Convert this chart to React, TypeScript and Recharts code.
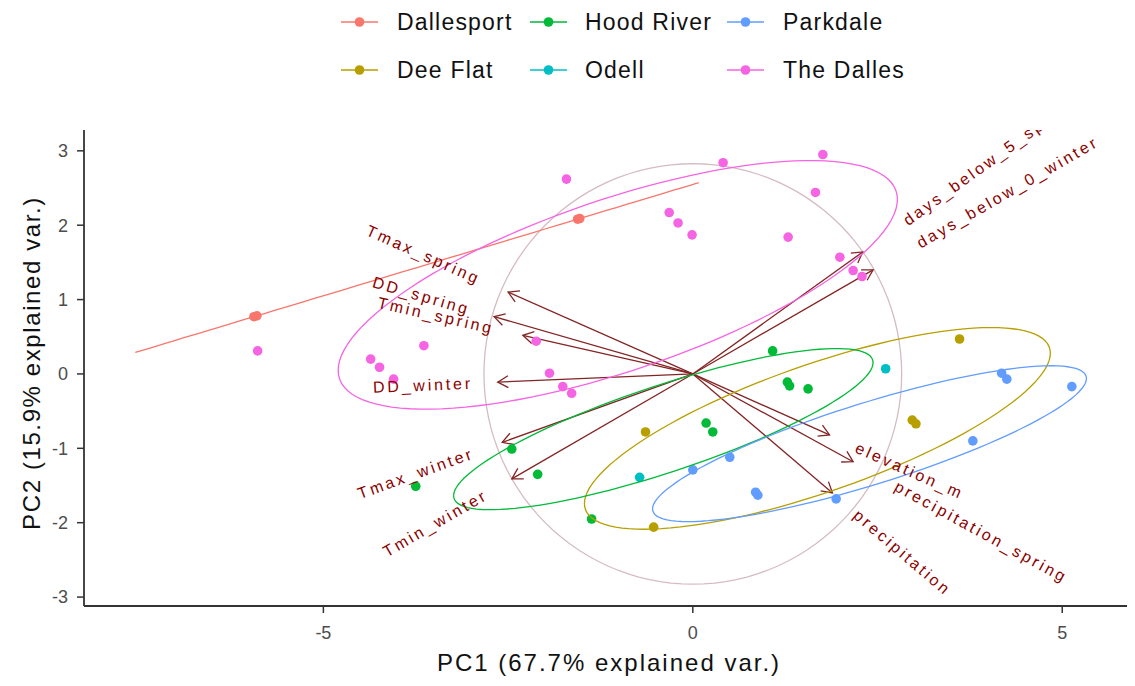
import { ScatterChart, Scatter, XAxis, YAxis } from "recharts";

const W = 1135;
const H = 686;
const PLOT = { left: 84, right: 1128, top: 130, bottom: 606 };
const X_DOMAIN: [number, number] = [-8.24, 5.89];
const Y_DOMAIN: [number, number] = [-3.12, 3.28];
const X_TICKS = [-5, 0, 5];
const Y_TICKS = [-3, -2, -1, 0, 1, 2, 3];

const FONT = '"Liberation Sans", Arial, Helvetica, sans-serif';
const ARROW_COLOR = "#832424";
const LABEL_COLOR = "#8B0000";
const CIRCLE_COLOR = "#d6bcc1";
const LABEL_SIZE = 16;
const LABEL_SPACING = 2.8;

const GROUPS = ["Dallesport", "Dee Flat", "Hood River", "Odell", "Parkdale", "The Dalles"];
const COLORS = ["#F8766D", "#B79F00", "#00BA38", "#00BFC4", "#619CFF", "#F564E3"];

// scores (PC1 / PC2) per site
const DALLESPORT_PC1 = [-5.94, -5.9, -1.53, -1.56];
const DALLESPORT_PC2 = [0.77, 0.782, 2.09, 2.081];
const DEE_FLAT_PC1 = [3.61, 2.97, 3.02, -0.64, -0.53];
const DEE_FLAT_PC2 = [0.47, -0.62, -0.67, -0.78, -2.06];
const HOOD_RIVER_PC1 = [1.08, 1.28, 1.31, 1.56, 0.18, 0.27, -2.45, -2.1, -1.37, -3.75];
const HOOD_RIVER_PC2 = [0.31, -0.11, -0.16, -0.2, -0.66, -0.78, -1.01, -1.35, -1.95, -1.51];
const ODELL_PC1 = [2.61, -0.72];
const ODELL_PC2 = [0.07, -1.39];
const PARKDALE_PC1 = [4.18, 4.25, 5.13, 3.79, 1.94, 0.85, 0.88, 0.5, 0.0];
const PARKDALE_PC2 = [0.01, -0.07, -0.17, -0.9, -1.68, -1.59, -1.63, -1.12, -1.29];
const THE_DALLES_PC1 = [
  -1.71, 0.41, 1.76, -0.32, -0.2, -0.01, 1.66, 1.29, 1.99, 2.17, 2.29, -2.12, -1.94, -1.76, -1.64,
  -3.64, -4.36, -4.24, -4.05, -5.89,
];
const THE_DALLES_PC2 = [
  2.62, 2.84, 2.95, 2.17, 2.03, 1.87, 2.44, 1.84, 1.57, 1.39, 1.31, 0.44, 0.01, -0.17, -0.26, 0.38,
  0.2, 0.09, -0.07, 0.31,
];

// variable loadings (arrow tips)
const VAR_NAMES = [
  "Tmax_spring",
  "DD_spring",
  "Tmin_spring",
  "DD_winter",
  "Tmax_winter",
  "Tmin_winter",
  "days_below_5_spring",
  "days_below_0_winter",
  "elevation_m",
  "precipitation_spring",
  "precipitation",
];
const LOAD_PC1 = [-2.5, -2.69, -2.3, -2.64, -2.58, -2.45, 2.3, 2.44, 1.85, 2.17, 1.89];
const LOAD_PC2 = [1.1, 0.77, 0.52, -0.11, -0.92, -1.41, 1.64, 1.4, -0.82, -1.18, -1.6];

const GROUP_PC1 = [DALLESPORT_PC1, DEE_FLAT_PC1, HOOD_RIVER_PC1, ODELL_PC1, PARKDALE_PC1, THE_DALLES_PC1];
const GROUP_PC2 = [DALLESPORT_PC2, DEE_FLAT_PC2, HOOD_RIVER_PC2, ODELL_PC2, PARKDALE_PC2, THE_DALLES_PC2];

const sx = (PLOT.right - PLOT.left) / (X_DOMAIN[1] - X_DOMAIN[0]);
const sy = (PLOT.bottom - PLOT.top) / (Y_DOMAIN[1] - Y_DOMAIN[0]);

type Pt = { x: number; y: number };

const groupPoints: Pt[][] = GROUPS.map((_, i) =>
  GROUP_PC1[i].map((x, j) => ({ x, y: GROUP_PC2[i][j] }))
);

// normal data ellipse, 68% like ggbiplot
function dataEllipse(pts: Pt[]): Pt[] | null {
  const n = pts.length;
  if (n <= 2) return null;
  const mx = pts.reduce((s, p) => s + p.x, 0) / n;
  const my = pts.reduce((s, p) => s + p.y, 0) / n;
  let sxx = 0, syy = 0, sxy = 0;
  pts.forEach((p) => {
    sxx += (p.x - mx) ** 2;
    syy += (p.y - my) ** 2;
    sxy += (p.x - mx) * (p.y - my);
  });
  sxx /= n - 1;
  syy /= n - 1;
  sxy /= n - 1;
  const ed = Math.sqrt(-2 * Math.log(1 - 0.68));
  const r11 = Math.sqrt(sxx);
  const r12 = sxy / r11;
  const r22 = Math.sqrt(Math.max(0, syy - r12 * r12));
  const out: Pt[] = [];
  for (let k = 0; k <= 120; k++) {
    const t = -Math.PI + (2 * Math.PI * k) / 120;
    const c = Math.cos(t);
    const s = Math.sin(t);
    out.push({ x: mx + ed * c * r11, y: my + ed * (c * r12 + s * r22) });
  }
  return out;
}

const ellipses = groupPoints.map(dataEllipse);

const loadings = VAR_NAMES.map((name, i) => ({ name, x: LOAD_PC1[i], y: LOAD_PC2[i] }));
const circleRadius = Math.max(...loadings.map((l) => Math.hypot(l.x, l.y)));
const circlePts: Pt[] = [];
for (let k = 0; k <= 120; k++) {
  const t = (2 * Math.PI * k) / 120;
  circlePts.push({ x: circleRadius * Math.cos(t), y: circleRadius * Math.sin(t) });
}

let measureCtx: CanvasRenderingContext2D | null = null;
function labelWidth(s: string) {
  if (!measureCtx) measureCtx = document.createElement("canvas").getContext("2d");
  if (!measureCtx) return s.length * LABEL_SIZE * 0.5;
  measureCtx.font = `${LABEL_SIZE}px ${FONT}`;
  return measureCtx.measureText(s).width + LABEL_SPACING * s.length;
}

const NoShape = () => <g />;

const makeDot = (color: string) => (p: any) => <circle cx={p.cx} cy={p.cy} r={4.8} fill={color} />;

function ArrowHead(p: any) {
  if (!p.payload || !p.payload.tip) return <g />;
  const a = Math.atan2(-p.payload.y * sy, p.payload.x * sx);
  const L = 12;
  const h = Math.PI / 6;
  const x1 = p.cx - L * Math.cos(a - h);
  const y1 = p.cy - L * Math.sin(a - h);
  const x2 = p.cx - L * Math.cos(a + h);
  const y2 = p.cy - L * Math.sin(a + h);
  return (
    <path
      d={`M${x1},${y1}L${p.cx},${p.cy}L${x2},${y2}`}
      fill="none"
      stroke={ARROW_COLOR}
      strokeWidth={1.3}
    />
  );
}

function VarLabel(p: any) {
  const { x, y, name } = p.payload;
  const deg = (Math.atan((y * sy) / (x * sx)) * 180) / Math.PI;
  const w = labelWidth(name);
  const pos = x > 0;
  const id = `clip-${name}`;
  return (
    <g>
      <defs>
        <clipPath id={id}>
          <rect x={PLOT.left} y={PLOT.top} width={PLOT.right - PLOT.left} height={PLOT.bottom - PLOT.top} />
        </clipPath>
      </defs>
      <g clipPath={`url(#${id})`}>
        <text
          transform={`translate(${p.cx},${p.cy}) rotate(${-deg})`}
          x={pos ? 0.25 * w : -0.25 * w}
          y={0}
          textAnchor={pos ? "start" : "end"}
          dominantBaseline="central"
          fontFamily={FONT}
          fontSize={LABEL_SIZE}
          letterSpacing={LABEL_SPACING}
          fill={LABEL_COLOR}
        >
          {name}
        </text>
      </g>
    </g>
  );
}

const LEGEND_KEY_X = [341, 530, 727];
const LEGEND_TEXT_X = [397, 585, 783];
const LEGEND_ROW_Y = [22, 70];

function TopLegend() {
  return (
    <div style={{ position: "absolute", left: 0, top: 0, width: W, height: 100 }}>
      {GROUPS.map((g, i) => {
        const col = Math.floor(i / 2);
        const row = i % 2;
        const cy = LEGEND_ROW_Y[row];
        return (
          <div key={g}>
            <svg
              style={{ position: "absolute", left: LEGEND_KEY_X[col], top: cy - 6 }}
              width={37}
              height={12}
            >
              <line x1={0} y1={6} x2={37} y2={6} stroke={COLORS[i]} strokeWidth={1.6} />
              <circle cx={18.5} cy={6} r={4.8} fill={COLORS[i]} />
            </svg>
            <span
              style={{
                position: "absolute",
                left: LEGEND_TEXT_X[col],
                top: cy - 14,
                lineHeight: "28px",
                fontSize: 23,
                letterSpacing: 1.2,
                fontFamily: FONT,
                color: "#111",
                whiteSpace: "nowrap",
              }}
            >
              {g}
            </span>
          </div>
        );
      })}
    </div>
  );
}

export default function App() {
  return (
    <div style={{ position: "relative", width: W, height: H, margin: -8, background: "#fff" }}>
      <ScatterChart
        width={W}
        height={H}
        margin={{ top: PLOT.top, right: W - PLOT.right, bottom: 0, left: 0 }}
      >
        <XAxis
          type="number"
          dataKey="x"
          domain={X_DOMAIN}
          ticks={X_TICKS}
          allowDataOverflow
          height={H - PLOT.bottom}
          tickSize={7}
          tickMargin={13}
          tick={{ fill: "#4d4d4d", fontSize: 18, fontFamily: FONT }}
          tickLine={{ stroke: "#333", strokeWidth: 1.5 }}
          axisLine={{ stroke: "#333", strokeWidth: 1.8 }}
          label={() => (
            <text
              x={(PLOT.left + PLOT.right) / 2 + 3}
              y={662}
              textAnchor="middle"
              dominantBaseline="central"
              fontFamily={FONT}
              fontSize={24}
              letterSpacing={2}
              fill="#111"
            >
              PC1 (67.7% explained var.)
            </text>
          )}
        />
        <YAxis
          type="number"
          dataKey="y"
          domain={Y_DOMAIN}
          ticks={Y_TICKS}
          allowDataOverflow
          width={PLOT.left}
          tickSize={7}
          tickMargin={9}
          tick={{ fill: "#4d4d4d", fontSize: 18, fontFamily: FONT }}
          tickLine={{ stroke: "#333", strokeWidth: 1.5 }}
          axisLine={{ stroke: "#333", strokeWidth: 1.8 }}
          label={() => (
            <text
              transform={`translate(31,${(PLOT.top + PLOT.bottom) / 2 - 5}) rotate(-90)`}
              textAnchor="middle"
              dominantBaseline="central"
              fontFamily={FONT}
              fontSize={24}
              letterSpacing={1.6}
              fill="#111"
            >
              PC2 (15.9% explained var.)
            </text>
          )}
        />
        <Scatter
          name="circle"
          data={circlePts}
          line={{ stroke: CIRCLE_COLOR, strokeWidth: 1.3 }}
          shape={NoShape}
          isAnimationActive={false}
        />
        {loadings.map((l) => (
          <Scatter
            key={`arrow-${l.name}`}
            name={`arrow-${l.name}`}
            data={[
              { x: 0, y: 0, tip: false },
              { x: l.x, y: l.y, tip: true },
            ]}
            line={{ stroke: ARROW_COLOR, strokeWidth: 1.3 }}
            shape={ArrowHead}
            isAnimationActive={false}
          />
        ))}
        {GROUPS.map((g, i) => (
          <Scatter
            key={`pts-${g}`}
            name={g}
            data={groupPoints[i]}
            shape={makeDot(COLORS[i])}
            isAnimationActive={false}
          />
        ))}
        {GROUPS.map((g, i) =>
          ellipses[i] ? (
            <Scatter
              key={`ell-${g}`}
              name={`ellipse-${g}`}
              data={ellipses[i] as Pt[]}
              line={{ stroke: COLORS[i], strokeWidth: 1.3 }}
              shape={NoShape}
              isAnimationActive={false}
            />
          ) : null
        )}
        <Scatter name="labels" data={loadings} shape={VarLabel} isAnimationActive={false} />
      </ScatterChart>
      <TopLegend />
    </div>
  );
}
